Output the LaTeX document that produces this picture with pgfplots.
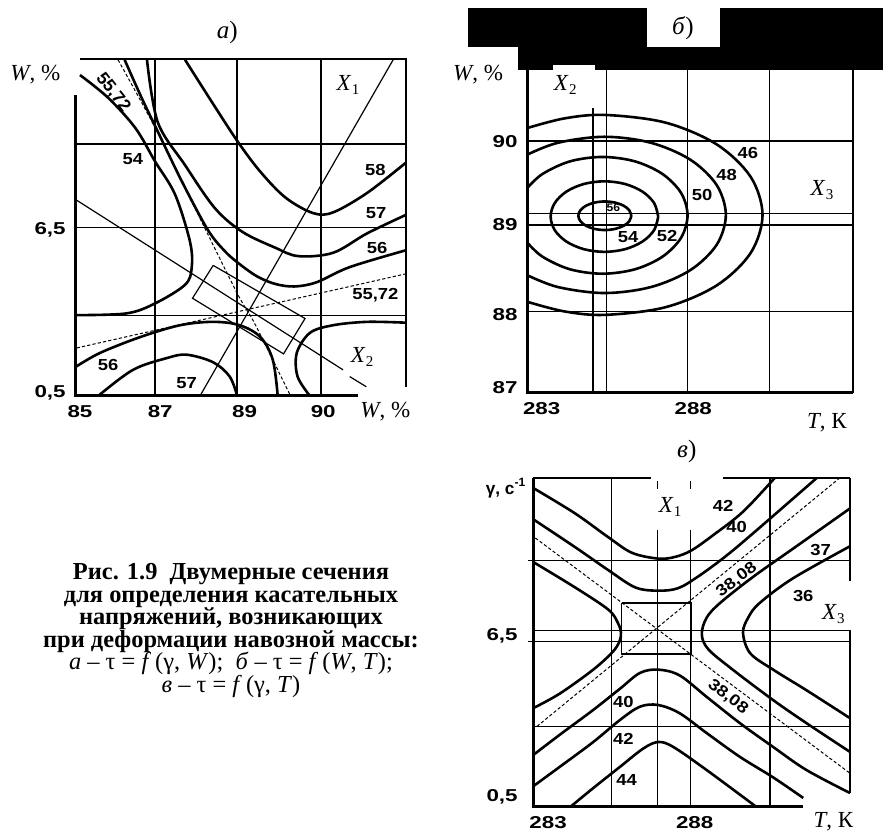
\documentclass[border=0pt]{standalone}
\usepackage{fontspec}
\setmainfont{Liberation Serif}
\newfontfamily\sans{Liberation Sans}
\usepackage{graphicx}
\usepackage{pgfplots}
\pgfplotsset{compat=1.18}

\newcommand\tk[1]{\scalebox{1.3}[1]{\fontsize{8.6}{9}\sans\bfseries #1}}
\newcommand\cl[1]{\scalebox{1.15}[1]{\fontsize{8}{8}\sans\bfseries #1}}
\newcommand\lab{\fontsize{11.5}{12}\selectfont}
\newcommand\Xs[1]{\textit{X}\kern0.2pt\raisebox{-0.4ex}{\fontsize{7.5}{7.5}\selectfont #1}}

\pgfplotsset{
  panel/.style={scale only axis, xmin=0,xmax=4,ymin=0,ymax=4, clip=false,
    axis line style={draw=none}, major tick length=0pt, tick style={draw=none},
    xticklabel style={anchor=center, yshift=-8pt, inner sep=0pt},
    yticklabel style={anchor=east, xshift=-4.5pt, inner sep=0pt},
    anchor=south west},
  cur/.style={black, line width=1.3pt, smooth, tension=0.55, mark=none},
  thn/.style={black, line width=0.6pt, mark=none},
  thk/.style={black, line width=1.5pt, mark=none},
  med/.style={black, line width=1.1pt, mark=none},
  dsh/.style={black, line width=0.5pt, dash pattern=on 1.6pt off 1.1pt, mark=none},
}

\begin{document}
\begin{tikzpicture}
\path[use as bounding box] (0,0) rectangle (441.5pt,417pt);

% ---------------- panel a ----------------
\begin{axis}[panel, at={(37.5pt,219pt)}, width=165.5pt, height=168.5pt,
  xtick={0.06,1.03,2.05,3.0}, xticklabels={\tk{85},\tk{87},\tk{89},\tk{90}},
  ytick={0.04,1.97}, yticklabels={\tk{0,5},\tk{6,5}}]
% grid
\addplot[thn] coordinates {(0.967,0) (0.967,4)};
\addplot[thn] coordinates {(1.958,0) (1.958,4)};
\addplot[thn] coordinates {(2.973,0) (2.973,4)};
\addplot[thn] coordinates {(0,2.99) (4,2.99)};
\addplot[thn] coordinates {(0,2.0) (4,2.0)};
\addplot[thn] coordinates {(0,0.96) (4,0.96)};
\addplot[thn] coordinates {(0.06,4) (4,4) (4,0.11)};
\addplot[thk] coordinates {(0,3.57) (0,0) (3.42,0)};
% axes X1, X2 and rectangle
\addplot[thn] coordinates {(1.51,0) (3.85,4)};
\addplot[thn] coordinates {(0.01,2.33) (3.24,0.31)};
\addplot[thn] coordinates {(3.32,0.23) (3.52,0.11)};
\addplot[thn] coordinates {(1.67,1.55) (2.78,0.92) (2.52,0.50) (1.42,1.16) (1.67,1.55)};
% dashed 55,72
\addplot[dsh, smooth] coordinates {(0.52,3.99) (0.97,3.18) (1.57,1.99) (1.97,1.20) (2.15,0.90) (2.39,0.43) (2.60,0.01)};
\addplot[dsh] coordinates {(0.02,0.57) (4.0,1.45)};
% 54
\addplot[cur] coordinates {(0.06,3.81) (0.40,3.54) (0.73,3.18) (0.97,2.78) (1.21,2.39) (1.39,1.83) (1.41,1.52) (1.33,1.32) (0.97,1.10) (0.62,0.98) (0,0.96)};
% 56 upper
\addplot[cur] coordinates {(0.60,3.99) (0.80,3.55) (0.99,3.16) (1.29,2.55) (1.60,1.98) (1.80,1.73) (1.97,1.58) (2.20,1.42) (2.42,1.33) (2.65,1.30) (2.92,1.35) (3.32,1.53) (4.0,1.73)};
% 57 upper
\addplot[cur] coordinates {(0.87,3.99) (1.00,3.25) (1.33,2.74) (1.69,2.23) (2.02,1.95) (2.42,1.76) (2.70,1.66) (3.12,1.70) (3.53,1.93) (4.0,2.15)};
% 58
\addplot[cur] coordinates {(1.33,3.99) (1.68,3.45) (1.98,3.0) (2.25,2.65) (2.55,2.35) (2.88,2.17) (3.12,2.18) (3.53,2.41) (4.0,2.77)};
% 56 lower left
\addplot[cur] coordinates {(0,0.34) (0.30,0.51) (0.79,0.70) (1.27,0.84) (1.67,0.88) (1.99,0.84) (2.24,0.70) (2.39,0.43) (2.45,0)};
% 57 lower
\addplot[cur] coordinates {(0.28,0) (0.70,0.31) (1.11,0.45) (1.35,0.49) (1.67,0.40) (1.87,0.23) (1.96,0)};
% 56 lower right
\addplot[cur] coordinates {(4.0,0.87) (3.53,0.88) (3.12,0.84) (2.84,0.75) (2.68,0.51) (2.69,0.23) (2.84,0)};
% labels
\node[font=\lab] at (axis cs:-0.48,3.81) {\textit{W}, \%};
\node[font=\lab, anchor=base] at (axis cs:3.75,-0.26) {\textit{W}, \%};
\node[font=\lab] at (axis cs:3.30,3.69) {\Xs{1}};
\node[font=\lab] at (axis cs:3.47,0.46) {\Xs{2}};
\node[font=\fontsize{12.5}{13}\selectfont] at (axis cs:1.84,4.32) {\textit{а})};
\node at (axis cs:3.63,2.68) {\cl{58}};
\node at (axis cs:3.64,2.17) {\cl{57}};
\node at (axis cs:3.65,1.76) {\cl{56}};
\node at (axis cs:3.63,1.20) {\cl{55,72}};
\node at (axis cs:0.70,2.81) {\cl{54}};
\node at (axis cs:0.40,0.37) {\cl{56}};
\node at (axis cs:1.35,0.15) {\cl{57}};
\node[rotate=-52, inner sep=0pt, font=\fontsize{8.8}{9}\sans\bfseries] at (axis cs:0.46,3.60) {55,72};
\end{axis}

% ---------------- panel b ----------------
\begin{axis}[panel, at={(263.5pt,220.5pt)}, width=163pt, height=168pt,
  xtick={0.18,2.04}, xticklabels={\tk{283},\tk{288}},
  ytick={0.06,0.93,2.01,2.99}, yticklabels={\tk{87},\tk{88},\tk{89},\tk{90}}]
\addplot[thn] coordinates {(0.977,0) (0.977,4)};
\addplot[thn] coordinates {(1.967,0) (1.967,4)};
\addplot[thn] coordinates {(2.98,0) (2.98,4)};
\addplot[thn] coordinates {(0,0.97) (4,0.97)};
\addplot[thn] coordinates {(0,2.0) (4,2.0)};
\addplot[thn] coordinates {(0,3.0) (4,3.0)};
\addplot[thn] coordinates {(0,2.14) (4,2.14)};
\addplot[thn] coordinates {(0,4) (4,4) (4,0)};
\addplot[thn] coordinates {(0.81,3.39) (0.81,0)};
\addplot[thk] coordinates {(0,4) (0,0) (4,0)};
% ellipses
\addplot[cur] coordinates {(1.28,2.11) (1.255,2.175) (1.185,2.23) (1.079,2.267) (0.955,2.28) (0.831,2.267) (0.725,2.23) (0.655,2.175) (0.63,2.11) (0.655,2.045) (0.725,1.99) (0.831,1.953) (0.955,1.94) (1.079,1.953) (1.185,1.99) (1.255,2.045) (1.28,2.11)};
\addplot[cur] coordinates {(1.61,2.10) (1.56,2.261) (1.417,2.397) (1.203,2.488) (0.95,2.52) (0.697,2.488) (0.483,2.397) (0.34,2.261) (0.29,2.10) (0.34,1.939) (0.483,1.803) (0.697,1.712) (0.95,1.68) (1.203,1.712) (1.417,1.803) (1.56,1.939) (1.61,2.10)};
\addplot[cur] coordinates {(0,2.436) (0.188,2.606) (0.526,2.757) (0.926,2.81) (1.326,2.757) (1.664,2.606) (1.891,2.381) (1.97,2.115) (1.891,1.849) (1.664,1.624) (1.326,1.473) (0.926,1.42) (0.526,1.473) (0.188,1.624) (0,1.794)};
\addplot[cur] coordinates {(0,2.836) (0.38,2.979) (0.95,3.05) (1.52,2.979) (2.003,2.778) (2.327,2.476) (2.44,2.12) (2.327,1.764) (2.003,1.462) (1.52,1.261) (0.95,1.19) (0.38,1.261) (0,1.404)};
\addplot[cur] coordinates {(0,3.153) (0.46,3.269) (0.96,3.31) (1.699,3.219) (2.325,2.961) (2.743,2.575) (2.89,2.12) (2.743,1.665) (2.325,1.279) (1.699,1.021) (0.96,0.93) (0.46,0.971) (0,1.087)};
% labels
\node at (axis cs:1.06,2.20) {\scalebox{1.1}[1]{\fontsize{5.5}{5.5}\sans\bfseries 56}};
\node at (axis cs:1.24,1.86) {\cl{54}};
\node at (axis cs:1.72,1.87) {\cl{52}};
\node at (axis cs:2.15,2.36) {\cl{50}};
\node at (axis cs:2.45,2.60) {\cl{48}};
\node at (axis cs:2.71,2.86) {\cl{46}};
\node[font=\lab] at (axis cs:0.47,3.67) {\Xs{2}};
\node[font=\lab] at (axis cs:3.62,2.42) {\Xs{3}};
\node[font=\lab] at (axis cs:-0.60,3.79) {\textit{W}, \%};
\node[font=\lab, anchor=base] at (axis cs:3.68,-0.42) {\textit{T}, К};
\end{axis}

% ---------------- panel c ----------------
\begin{axis}[panel, at={(266.5pt,13.5pt)}, width=158.5pt, height=164.5pt,
  xtick={0.19,2.04}, xticklabels={\tk{283},\tk{288}},
  ytick={0.12,2.08}, yticklabels={\tk{0,5},\tk{6,5}},
  yticklabel style={anchor=east, xshift=-3pt, inner sep=0pt}]
\addplot[thn] coordinates {(0.99,0) (0.99,4)};
\addplot[thn] coordinates {(2.99,0) (2.99,4)};
\addplot[thn] coordinates {(1.99,0) (1.99,3.37)};
\addplot[thn] coordinates {(1.57,0) (1.57,3.37)};
\addplot[thn] coordinates {(1.57,3.96) (1.57,3.87)};
\addplot[thn] coordinates {(1.99,3.96) (1.99,3.87)};
\addplot[thn] coordinates {(-0.06,3.0) (4,3.0)};
\addplot[thn] coordinates {(0,2.15) (4,2.15)};
\addplot[thn] coordinates {(-0.06,2.01) (4,2.01)};
\addplot[thn] coordinates {(0,0.98) (4,0.98)};
\addplot[thn] coordinates {(4,4) (4,2.75)};
\addplot[thn] coordinates {(4,2.15) (4,0.17)};
\addplot[med] coordinates {(0,4) (1.49,4)};
\addplot[med] coordinates {(2.40,4) (4,4)};
\addplot[thk] coordinates {(0,4) (0,0) (3.41,0)};
% square and asymptotes
\addplot[thn] coordinates {(1.12,2.48) (2.0,2.48) (2.0,1.86) (1.12,1.86) (1.12,2.48)};
\addplot[dsh] coordinates {(0.03,3.27) (4.0,0.41)};
\addplot[dsh] coordinates {(0.05,0.98) (3.87,4.0)};
% upper 42, 40
\addplot[cur] coordinates {(0,3.88) (0.53,3.57) (0.95,3.28) (1.25,3.09) (1.58,3.02) (1.79,3.04) (2.0,3.12) (2.28,3.31) (2.65,3.59) (3.05,4.0)};
\addplot[cur] coordinates {(0,3.50) (0.53,3.16) (0.95,2.88) (1.29,2.67) (1.58,2.63) (1.83,2.66) (2.08,2.80) (2.42,3.04) (2.78,3.33) (3.58,4.0)};
% left branch
\addplot[cur] coordinates {(0,2.98) (0.53,2.67) (0.95,2.40) (1.07,2.24) (1.11,2.12) (1.09,2.01) (1.0,1.88) (0.76,1.67) (0.34,1.38) (0,1.20)};
% right branches 37, 36
\addplot[cur] coordinates {(4.0,3.63) (3.28,3.14) (2.78,2.80) (2.36,2.48) (2.19,2.30) (2.13,2.10) (2.21,1.92) (2.52,1.67) (3.03,1.30) (3.45,1.02) (4.0,0.67)};
\addplot[cur] coordinates {(4.0,3.17) (3.28,2.78) (2.86,2.48) (2.72,2.31) (2.65,2.12) (2.74,1.87) (3.03,1.67) (3.45,1.42) (4.0,1.08)};
% lower 40, 42, 44
\addplot[cur] coordinates {(0,0.63) (0.34,0.88) (0.76,1.18) (1.10,1.44) (1.35,1.63) (1.58,1.67) (1.85,1.60) (2.19,1.34) (2.61,1.02) (3.03,0.73) (3.45,0.45) (4.0,0.17)};
\addplot[cur] coordinates {(0,0.25) (0.34,0.49) (0.76,0.79) (1.10,1.06) (1.35,1.22) (1.58,1.24) (1.85,1.14) (2.19,0.90) (2.61,0.61) (3.03,0.36) (3.41,0.11)};
\addplot[cur] coordinates {(0.47,0) (0.76,0.23) (1.10,0.49) (1.39,0.71) (1.58,0.79) (1.77,0.73) (2.19,0.45) (2.82,0)};
% labels
\node at (axis cs:2.40,3.66) {\cl{42}};
\node at (axis cs:2.57,3.41) {\cl{40}};
\node at (axis cs:3.63,3.12) {\cl{37}};
\node at (axis cs:3.41,2.56) {\cl{36}};
\node[rotate=37] at (axis cs:2.57,2.76) {\cl{38,08}};
\node[rotate=-38] at (axis cs:2.46,1.34) {\cl{38,08}};
\node at (axis cs:1.14,1.28) {\cl{40}};
\node at (axis cs:1.14,0.83) {\cl{42}};
\node at (axis cs:1.18,0.33) {\cl{44}};
\node[font=\lab] at (axis cs:1.73,3.65) {\Xs{1}};
\node[font=\lab] at (axis cs:3.79,2.35) {\Xs{3}};
\node[anchor=east, inner sep=0pt] at (axis cs:-0.08,3.88) {\fontsize{8.6}{9}\sans\bfseries γ, с\textsuperscript{-1}};
\node[font=\lab, anchor=base, inner sep=0pt] at (axis cs:3.79,-0.25) {\textit{T}, К};
\node[font=\fontsize{12.5}{13}\selectfont] at (axis cs:1.94,4.32) {\textit{в})};
\end{axis}

% redaction bands of panel b
\fill[black] (234pt,393.5pt) rectangle (323.5pt,413pt);
\fill[black] (360pt,393.5pt) rectangle (441.5pt,413pt);
\fill[black] (259pt,382pt) rectangle (441.5pt,393.5pt);
\fill[white] (276.5pt,382pt) rectangle (297.5pt,384.5pt);
\node[font=\fontsize{12.5}{13}\selectfont] at (341.5pt,403pt) {\textit{б})};

% caption
\begin{scope}[every node/.style={anchor=base, inner sep=0pt}]
\node[font=\fontsize{12.2}{12}\selectfont\bfseries] at (115.5pt,127pt) {Рис. 1.9\ \ Двумерные сечения};
\node[font=\fontsize{12.2}{12}\selectfont\bfseries] at (115.5pt,115.5pt) {для определения касательных};
\node[font=\fontsize{12.2}{12}\selectfont\bfseries] at (115.5pt,104.5pt) {напряжений, возникающих};
\node[font=\fontsize{12.2}{12}\selectfont\bfseries] at (115.5pt,93pt) {при деформации навозной массы:};
\node[font=\fontsize{12.2}{12}\selectfont] at (115.5pt,82pt) {\textit{а} – τ = \textit{f}\,(γ, \textit{W});\ \ \textit{б} – τ = \textit{f}\,(\textit{W}, \textit{T});};
\node[font=\fontsize{12.2}{12}\selectfont] at (115.5pt,70.5pt) {\textit{в} – τ = \textit{f}\,(γ, \textit{T})};
\end{scope}
\end{tikzpicture}
\end{document}
